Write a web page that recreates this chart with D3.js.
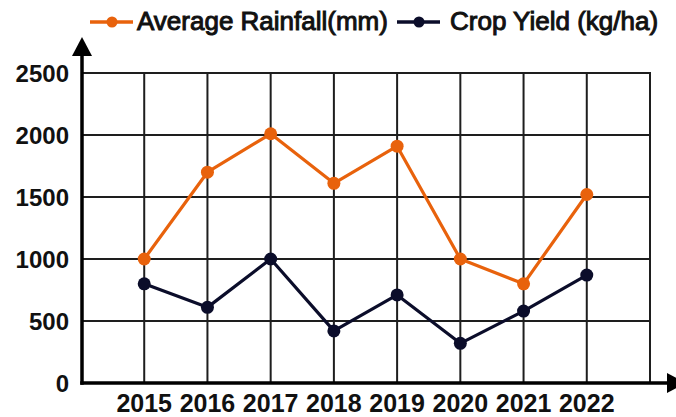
<!DOCTYPE html>
<html>
<head>
<meta charset="utf-8">
<script src="https://cdn.jsdelivr.net/npm/d3@7.9.0/dist/d3.min.js"></script>
<style>
  body { margin: 0; background: #fff; }
  svg { display: block; font-family: "Liberation Sans", Arial, sans-serif; }
</style>
</head>
<body>
<div id="chart"></div>
<script>
// chart data
const years = ['2015', '2016', '2017', '2018', '2019', '2020', '2021', '2022'];
const rainfall = [1000, 1700, 2010, 1610, 1910, 1000, 800, 1520];
const cropYield = [800, 610, 1000, 420, 710, 320, 580, 870];
const yTicks = [0, 500, 1000, 1500, 2000, 2500];

const seriesNames = ['Average Rainfall(mm)', 'Crop Yield (kg/ha)'];
const seriesColors = ['#e8620c', '#0b0d2a'];

const width = 676;
const height = 417;
const margin = { top: 73, right: 26, bottom: 34, left: 82 };

const svg = d3.select('#chart')
  .append('svg')
  .attr('width', width)
  .attr('height', height);

// one empty slot before and after the years, like the grid in the picture
const slots = ['', ...years, ' '];
const xScale = d3.scalePoint()
  .domain(slots)
  .range([margin.left - 1, width - margin.right]);

const yScale = d3.scaleLinear()
  .domain([0, 2500])
  .range([height - margin.bottom, margin.top]);

// gridlines
const grid = svg.append('g').attr('class', 'grid');
grid.selectAll('line.h')
  .data(yTicks.slice(1))
  .join('line')
  .attr('class', 'h')
  .attr('x1', margin.left)
  .attr('x2', xScale(' ') + 1)
  .attr('y1', d => yScale(d))
  .attr('y2', d => yScale(d))
  .attr('stroke', '#1e1e1e')
  .attr('stroke-width', 2);

grid.selectAll('line.v')
  .data(slots.slice(1))
  .join('line')
  .attr('class', 'v')
  .attr('x1', d => xScale(d))
  .attr('x2', d => xScale(d))
  .attr('y1', yScale(2500) - 1)
  .attr('y2', yScale(0))
  .attr('stroke', '#1e1e1e')
  .attr('stroke-width', 2);

// axes with arrow heads
const x0 = margin.left;
const y0 = yScale(0);

svg.append('line')
  .attr('x1', x0).attr('x2', x0)
  .attr('y1', y0 + 1.75).attr('y2', 50)
  .attr('stroke', '#000')
  .attr('stroke-width', 3.5);
svg.append('path')
  .attr('d', `M${x0},37 L${x0 + 10},56 L${x0 - 10},56 Z`)
  .attr('fill', '#000');

svg.append('line')
  .attr('x1', x0 - 1.75).attr('x2', 670)
  .attr('y1', y0).attr('y2', y0)
  .attr('stroke', '#000')
  .attr('stroke-width', 3.5);
svg.append('path')
  .attr('d', `M686,${y0} L667,${y0 - 10} L667,${y0 + 10} Z`)
  .attr('fill', '#000');

// tick labels
svg.append('g')
  .selectAll('text')
  .data(yTicks)
  .join('text')
  .attr('x', 69)
  .attr('y', d => yScale(d))
  .attr('dy', '0.36em')
  .attr('text-anchor', 'end')
  .attr('font-size', 24)
  .attr('font-weight', 'bold')
  .attr('fill', '#111')
  .text(d => d);

svg.append('g')
  .selectAll('text')
  .data(years)
  .join('text')
  .attr('x', d => xScale(d))
  .attr('y', 412)
  .attr('text-anchor', 'middle')
  .attr('font-size', 25)
  .attr('font-weight', 'bold')
  .attr('fill', '#111')
  .text(d => d);

// lines and dots
const line = d3.line()
  .x((d, i) => xScale(years[i]))
  .y(d => yScale(d));

[rainfall, cropYield].forEach((values, k) => {
  svg.append('path')
    .datum(values)
    .attr('fill', 'none')
    .attr('stroke', seriesColors[k])
    .attr('stroke-width', 3.2)
    .attr('stroke-linejoin', 'round')
    .attr('d', line);

  svg.append('g')
    .selectAll('circle')
    .data(values)
    .join('circle')
    .attr('cx', (d, i) => xScale(years[i]))
    .attr('cy', d => yScale(d))
    .attr('r', 6.5)
    .attr('fill', seriesColors[k]);
});

// legend
const legendX = [90, 397];
const legendGap = [47, 53];
const legend = svg.append('g');
seriesNames.forEach((name, k) => {
  const g = legend.append('g').attr('transform', `translate(${legendX[k]}, 22)`);
  g.append('line')
    .attr('x1', 0).attr('x2', 43)
    .attr('stroke', seriesColors[k])
    .attr('stroke-width', 3.5);
  g.append('circle')
    .attr('cx', 22).attr('r', 5.5)
    .attr('fill', seriesColors[k]);
  g.append('text')
    .attr('x', legendGap[k])
    .attr('y', -1)
    .attr('dy', '0.36em')
    .attr('font-size', 26)
    .attr('fill', '#111')
    .attr('stroke', '#111')
    .attr('stroke-width', 1)
    .text(name);
});
</script>
</body>
</html>
